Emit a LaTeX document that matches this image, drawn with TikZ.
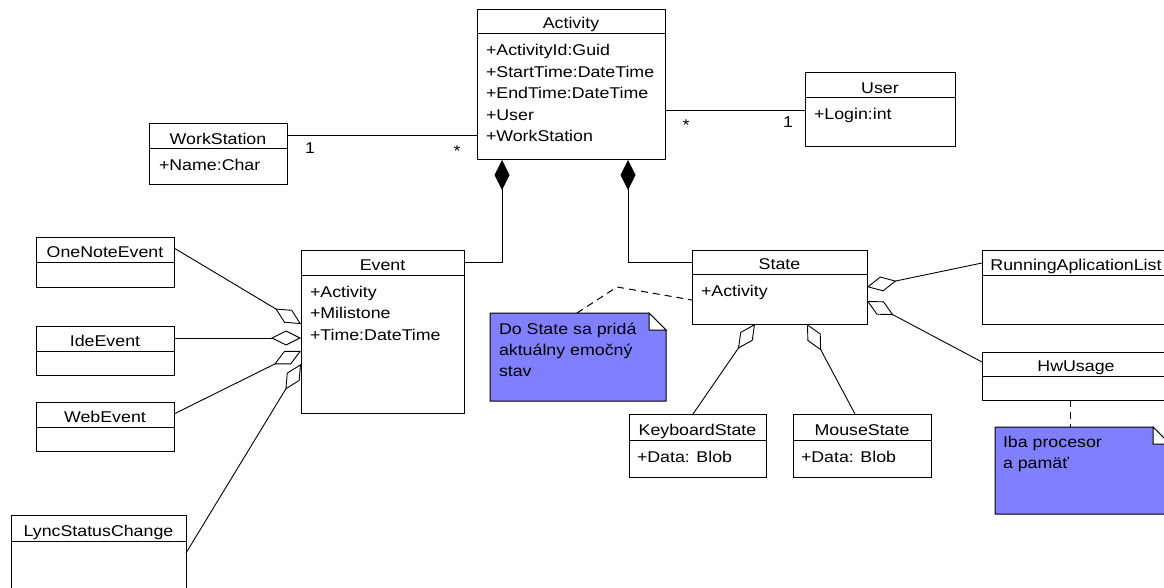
\documentclass[tikz,border=0pt]{standalone}
\usepackage{fontspec}
\setmainfont{Liberation Sans}[FakeStretch=1.14]
\usetikzlibrary{arrows.meta}
\definecolor{noteblue}{RGB}{128,128,255}
\tikzset{
  clsbox/.style={draw=black, line width=1pt, inner sep=0pt, outer sep=0pt, fill=white},
  boxline/.style={draw=black, line width=1pt},
  txt/.style={inner sep=0pt, outer sep=0pt, font=\fontsize{15.6}{18}\selectfont},
  assoc/.style={draw=black, line width=1pt},
  agg/.style={draw=black, line width=0.9pt, {Diamond[open, length=30pt, width=15pt, line width=0.9pt]}-},
  comp/.style={draw=black, line width=1pt, {Diamond[length=30pt, width=15pt]}-},
  notebox/.style={draw=none, inner sep=0pt, outer sep=0pt},
  notelink/.style={draw=black, line width=1pt, dash pattern=on 7pt off 5pt},
}
\newcommand\umlclass[6]{%
  \node[clsbox, minimum width={#4-#2}, minimum height={#5-#3}] (#1) at ({(#2+#4)/2},{(#3+#5)/2}) {};
  \draw[boxline] (#1.west |- 0,#6) -- (#1.east |- 0,#6);
}
\newcommand\umlnote[5]{% name, left, top, right, bottom
  \node[notebox, minimum width={#4-#2}, minimum height={#5-#3}] (#1) at ({(#2+#4)/2},{(#3+#5)/2}) {};
  \filldraw[fill=noteblue, draw=black, line width=1pt]
    (#1.north west) -- ([xshift=-17pt]#1.north east) -- ([yshift=-17pt]#1.north east)
    -- (#1.south east) -- (#1.south west) -- cycle;
  \filldraw[fill=white, draw=black, line width=1pt]
    ([xshift=-17pt]#1.north east) -- ([xshift=-17pt, yshift=-17pt]#1.north east)
    -- ([yshift=-17pt]#1.north east) -- cycle;
}
\begin{document}
\begin{tikzpicture}[x=1pt, y=-1pt]
\useasboundingbox (0,0) rectangle (1164,588);
\fill[white] (0,0) rectangle (1164,588);
\clip (0,0) rectangle (1164,588);

\coordinate (cEv) at (502,262);
\coordinate (cSt) at (628,262);
\coordinate (nbend) at (617,287);

% classes
\umlclass{act}{477}{10}{665}{160}{34}
\node[txt, anchor=base] (act-t) at (571,29) {Activity};
\node[txt, anchor=base west] (act-a1) at (486,56) {+ActivityId:Guid};
\node[txt, anchor=base west] (act-a2) at (486,77.5) {+StartTime:DateTime};
\node[txt, anchor=base west] (act-a3) at (486,99) {+EndTime:DateTime};
\node[txt, anchor=base west] (act-a4) at (486,120.5) {+User};
\node[txt, anchor=base west] (act-a5) at (486,142) {+WorkStation};

\umlclass{user}{805}{73}{955}{147}{98}
\node[txt, anchor=base] (user-t) at (880,93.5) {User};
\node[txt, anchor=base west] (user-a1) at (814,120) {+Login:int};

\umlclass{ws}{149}{124}{287}{185}{149}
\node[txt, anchor=base] (ws-t) at (218,144.5) {WorkStation};
\node[txt, anchor=base west] (ws-a1) at (159,171) {+Name:Char};

\umlclass{event}{301}{250}{464}{413}{275}
\node[txt, anchor=base] (event-t) at (382.5,270.5) {Event};
\node[txt, anchor=base west] (event-a1) at (310,297) {+Activity};
\node[txt, anchor=base west] (event-a2) at (310,318.5) {+Milistone};
\node[txt, anchor=base west] (event-a3) at (310,340) {+Time:DateTime};

\umlclass{one}{36}{237}{174}{287}{262}
\node[txt, anchor=base] (one-t) at (105,257.5) {OneNoteEvent};
\umlclass{ide}{36}{326}{174}{375}{351}
\node[txt, anchor=base] (ide-t) at (105,346.5) {IdeEvent};
\umlclass{web}{36}{402}{174}{451}{427}
\node[txt, anchor=base] (web-t) at (105,422.5) {WebEvent};
\umlclass{lync}{11}{515}{186}{620}{541}
\node[txt, anchor=base] (lync-t) at (98.5,536.5) {LyncStatusChange};

\umlclass{state}{692}{250}{867}{324}{274}
\node[txt, anchor=base] (state-t) at (779.5,269.5) {State};
\node[txt, anchor=base west] (state-a1) at (701,296) {+Activity};

\umlclass{kb}{629}{414}{766}{477}{440}
\node[txt, anchor=base] (kb-t) at (697.5,435.5) {KeyboardState};
\node[txt, anchor=base west] (kb-a1) at (637,462) {+Data: Blob};

\umlclass{mouse}{793}{414}{931}{477}{440}
\node[txt, anchor=base] (mouse-t) at (862,435.5) {MouseState};
\node[txt, anchor=base west] (mouse-a1) at (801,462) {+Data: Blob};

\umlclass{ral}{982}{250}{1170}{324}{275}
\node[txt, anchor=base] (ral-t) at (1076,270.5) {RunningAplicationList};
\umlclass{hw}{982}{352}{1170}{400}{376}
\node[txt, anchor=base] (hw-t) at (1076,371.5) {HwUsage};

% notes
\umlnote{n1}{490}{313}{666}{401}
\node[txt, anchor=base west] (n1-l1) at (499,334) {Do State sa pridá};
\node[txt, anchor=base west] (n1-l2) at (499,355) {aktuálny emočný};
\node[txt, anchor=base west] (n1-l3) at (499,376) {stav};
\umlnote{n2}{995}{427}{1170}{514}
\node[txt, anchor=base west] (n2-l1) at (1003,447) {Iba procesor};
\node[txt, anchor=base west] (n2-l2) at (1003,468) {a pamäť};

% associations
\draw[assoc] (ws.east |- 0,136) -- (act.west |- 0,136);
\node[txt, anchor=base] (m-ws) at (310,153.5) {1};
\node[txt, anchor=center] (m-act1) at (457,151) {*};
\draw[assoc] (act.east |- 0,111) -- (user.west |- 0,111);
\node[txt, anchor=center] (m-act2) at (686,125) {*};
\node[txt, anchor=base] (m-user) at (788,128) {1};

% compositions
\draw[comp] (act.south -| cEv) -- (cEv) -- (event.east |- cEv);
\draw[comp] (act.south -| cSt) -- (cSt) -- (state.west |- cSt);

% aggregations to Event
\draw[agg] (event.west |- 0,324) -- (one.east |- 0,248);
\draw[agg] (event.west |- 0,338) -- (ide.east |- 0,338);
\draw[agg] (event.west |- 0,351) -- (web.east |- 0,414);
\draw[agg] (event.west |- 0,364) -- (lync.east |- 0,553);

% aggregations to State
\draw[agg] (state.south -| 755,0) -- (kb.north -| 693,0);
\draw[agg] (state.south -| 807,0) -- (mouse.north -| 855,0);
\draw[agg] (state.east |- 0,287) -- (ral.west |- 0,263);
\draw[agg] (state.east |- 0,301) -- (hw.west |- 0,362);

% note links
\draw[notelink] (n1.north -| 577,0) -- (nbend) -- (state.west |- 0,300);
\draw[notelink] (hw.south -| 1070,0) -- (n2.north -| 1070,0);
\end{tikzpicture}
\end{document}
